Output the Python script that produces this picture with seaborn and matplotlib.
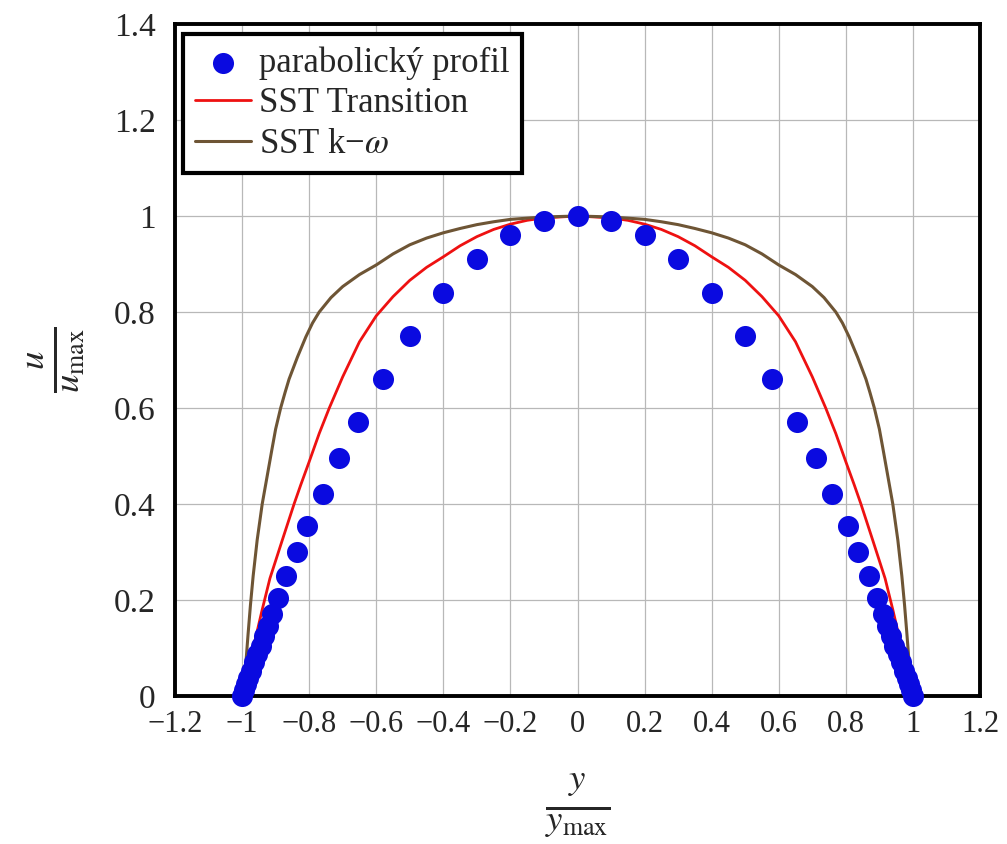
import matplotlib
matplotlib.use("Agg")
import matplotlib.pyplot as plt
import seaborn as sns
import pandas as pd

# Half profiles (wall-normal coordinate y/ymax from centre to wall); mirrored below
parab_y = [0.0, 0.1, 0.2, 0.3, 0.4, 0.5, 0.58, 0.655, 0.71, 0.76, 0.805, 0.835,
           0.868, 0.892, 0.91, 0.924, 0.935, 0.945, 0.955, 0.964, 0.973, 0.981,
           0.988, 0.994, 1.0]
parab_u = [1.0, 0.99, 0.96, 0.91, 0.84, 0.75, 0.66, 0.57, 0.495, 0.42, 0.355, 0.30,
           0.25, 0.205, 0.17, 0.145, 0.125, 0.105, 0.088, 0.07, 0.053, 0.038,
           0.024, 0.012, 0.0]

trans_y = [0.0, 0.1, 0.15, 0.2, 0.25, 0.3, 0.35, 0.4, 0.45, 0.5, 0.55, 0.6, 0.65,
           0.7, 0.74, 0.77, 0.8, 0.825, 0.845, 0.88, 0.917, 0.94, 0.96, 0.98, 1.0]
trans_u = [1.0, 0.996, 0.991, 0.983, 0.972, 0.957, 0.938, 0.915, 0.893, 0.866,
           0.832, 0.792, 0.738, 0.665, 0.600, 0.547, 0.488, 0.440, 0.400, 0.325,
           0.245, 0.180, 0.120, 0.060, 0.0]

kw_y = [0.0, 0.1, 0.2, 0.25, 0.3, 0.35, 0.4, 0.45, 0.5, 0.55, 0.6, 0.65, 0.7,
        0.735, 0.77, 0.79, 0.81, 0.835, 0.86, 0.872, 0.885, 0.9, 0.912, 0.926,
        0.94, 0.955, 0.967, 0.975, 0.982, 0.988, 0.994, 1.0]
kw_u = [1.0, 0.998, 0.993, 0.988, 0.982, 0.974, 0.965, 0.954, 0.940, 0.921, 0.898,
        0.878, 0.853, 0.830, 0.800, 0.777, 0.748, 0.706, 0.660, 0.632, 0.600,
        0.556, 0.510, 0.455, 0.400, 0.325, 0.250, 0.190, 0.130, 0.075, 0.030, 0.0]

x_ticks = [-1.2, -1.0, -0.8, -0.6, -0.4, -0.2, 0.0, 0.2, 0.4, 0.6, 0.8, 1.0, 1.2]
x_tick_labels = ["\u22121.2", "\u22121", "\u22120.8", "\u22120.6", "\u22120.4", "\u22120.2",
                 "0", "0.2", "0.4", "0.6", "0.8", "1", "1.2"]
y_ticks = [0.0, 0.2, 0.4, 0.6, 0.8, 1.0, 1.2, 1.4]
y_tick_labels = ["0", "0.2", "0.4", "0.6", "0.8", "1", "1.2", "1.4"]


def mirror(ys, us):
    """Build the full channel profile from the centre-to-wall half."""
    full_y = [-v for v in reversed(ys[1:])] + list(ys)
    full_u = list(reversed(us[1:])) + list(us)
    return pd.DataFrame({"y": full_y, "u": full_u})


parab = mirror(parab_y, parab_u)
trans = mirror(trans_y, trans_u)
kw = mirror(kw_y, kw_u)

sns.set_style("white")
plt.rcParams["font.family"] = ["Liberation Serif", "DejaVu Serif"]
plt.rcParams["mathtext.fontset"] = "stix"

fig = plt.figure(figsize=(10.07, 8.44), dpi=100)
ax = fig.add_axes([175 / 1007, 1 - 696 / 844, (980 - 175) / 1007, (696 - 24) / 844])

sns.lineplot(data=trans, x="y", y="u", ax=ax, color="#ee1111", lw=2.0,
             sort=False, estimator=None, label="SST Transition", zorder=3)
sns.lineplot(data=kw, x="y", y="u", ax=ax, color="#6e5535", lw=2.2,
             sort=False, estimator=None, label="SST k\u2212$\\omega$", zorder=3)
sns.scatterplot(data=parab, x="y", y="u", ax=ax, color="#0a0ae0", s=230,
                linewidth=0, label="parabolický profil", zorder=4, clip_on=False)

ax.set_xlim(-1.2, 1.2)
ax.set_ylim(0, 1.4)
ax.set_xticks(x_ticks)
ax.set_xticklabels(x_tick_labels, fontsize=22)
ax.set_yticks(y_ticks)
ax.set_yticklabels(y_tick_labels, fontsize=24)
ax.tick_params(axis="both", length=0)
ax.tick_params(axis="x", pad=10)
ax.tick_params(axis="y", pad=14)

ax.grid(True, color="#b8b8b8", lw=0.9)
ax.set_axisbelow(True)
for sp in ax.spines.values():
    sp.set_visible(True)
    sp.set_color("black")
    sp.set_linewidth(2.8)

ax.set_xlabel(r"$\frac{y}{y_{\mathrm{max}}}$", fontsize=38, labelpad=24)
ax.set_ylabel(r"$\frac{u}{u_{\mathrm{max}}}$", fontsize=38, labelpad=20)

handles, labels = ax.get_legend_handles_labels()
order = [labels.index("parabolický profil"), labels.index("SST Transition"),
         labels.index("SST k\u2212$\\omega$")]
leg = ax.legend([handles[i] for i in order], [labels[i] for i in order],
                loc="upper left", bbox_to_anchor=(0.01, 0.985), borderaxespad=0,
                fontsize=25, frameon=True, fancybox=False, edgecolor="black",
                framealpha=1, handlelength=1.6, handletextpad=0.25,
                labelspacing=0.22, borderpad=0.35, scatterpoints=1)
leg.get_frame().set_linewidth(3.0)

fig.savefig("out.png", dpi=100)
